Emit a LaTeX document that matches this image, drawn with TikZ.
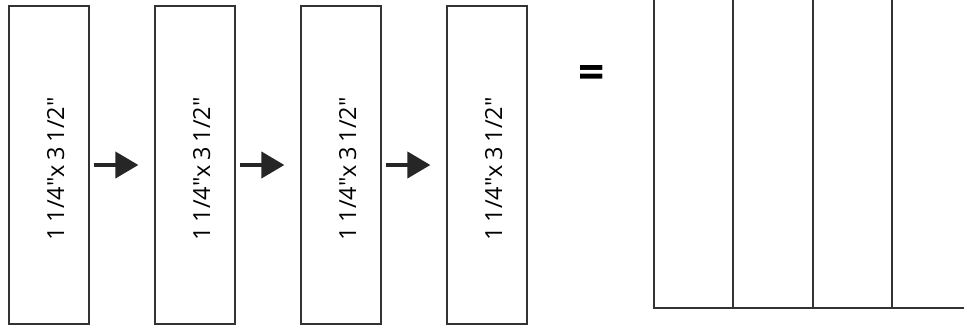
\documentclass[tikz,border=0pt]{standalone}
\usepackage{fontspec}
\setmainfont{Open Sans}
\usetikzlibrary{arrows.meta}
\tikzset{
  piece/.style={draw=black!80, line width=1.2pt, fill=white, minimum width=80pt, minimum height=318pt, inner sep=0pt},
  lbl/.style={rotate=90, anchor=base, inner sep=0pt, font=\fontsize{23.5}{23.5}\selectfont},
  flow/.style={line width=4pt, black!85, -{Triangle[length=23pt,width=26pt]}},
  gridline/.style={draw=black!80, line width=1.2pt},
  eqs/.style={inner sep=0pt, font=\bfseries\fontsize{46}{46}\selectfont}
}
\begin{document}
\begin{tikzpicture}[x=1pt,y=-1pt]
\useasboundingbox (0,0) rectangle (964,329);
\foreach \i in {0,1,2,3}{
  \node[piece] (b\i) at ({49+146*\i},165) {};
  \node[lbl] (t\i) at ({64+146*\i},169) {1\kern0.2em1/4″x\kern0.2em3\kern0.2em1/2″};
}
\foreach \i/\j in {0/1,1/2,2/3}{
  \draw[flow] ([xshift=4pt]b\i.east) -- ([xshift=-16pt]b\j.west);
}
\node[eqs] (eq) at (591.5,77) {=};
\coordinate (g0) at (654,0);
\coordinate (g1) at (733,0);
\coordinate (g2) at (813,0);
\coordinate (g3) at (892,0);
\coordinate (gb) at (654,308);
\coordinate (ge) at (964,308);
\draw[gridline] (g0) -- (gb) -- (ge);
\draw[gridline] (g1) -- (g1 |- gb);
\draw[gridline] (g2) -- (g2 |- gb);
\draw[gridline] (g3) -- (g3 |- gb);
\end{tikzpicture}
\end{document}
